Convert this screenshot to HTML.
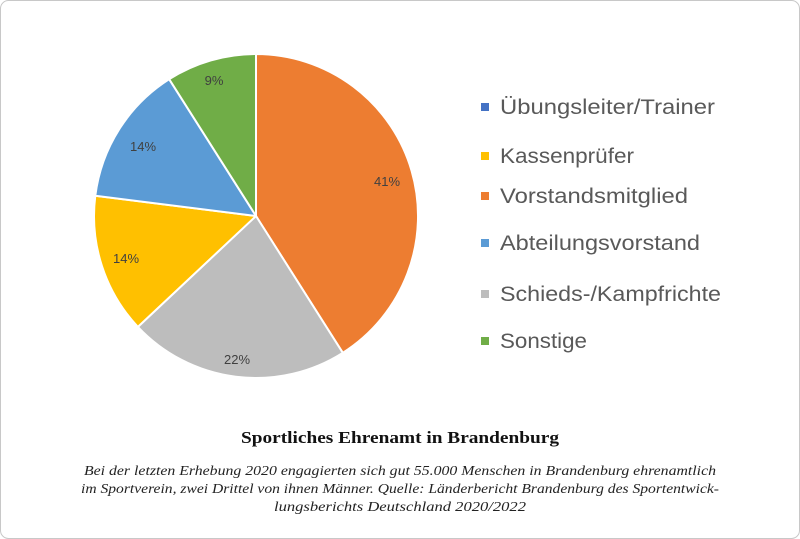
<!DOCTYPE html>
<html><head><meta charset="utf-8"><style>
body{margin:0;background:#fff;}
svg{display:block;}
</style></head><body>
<svg width="800" height="539" xmlns="http://www.w3.org/2000/svg">
<rect x="0.5" y="0.5" width="799" height="538" rx="8" fill="#fff" stroke="#c8c8c8"/>
<g stroke="#fff" stroke-width="2" stroke-linejoin="round">
<path d="M256,216 L256,54 A162,162 0 0 1 342.8,352.8 Z" fill="#ED7D31"/>
<path d="M256,216 L342.8,352.8 A162,162 0 0 1 137.9,326.9 Z" fill="#A5A5A5" style="fill:#BDBDBD"/>
<path d="M256,216 L137.9,326.9 A162,162 0 0 1 95.3,195.7 Z" fill="#FFC000"/>
<path d="M256,216 L95.3,195.7 A162,162 0 0 1 169.2,79.2 Z" fill="#5B9BD5"/>
<path d="M256,216 L169.2,79.2 A162,162 0 0 1 256,54 Z" fill="#70AD47"/>
</g>
<g font-family="Liberation Sans, sans-serif" font-size="13" fill="#404040" text-anchor="middle">
<text x="387" y="186">41%</text>
<text x="237" y="364">22%</text>
<text x="126" y="263">14%</text>
<text x="143" y="151">14%</text>
<text x="214" y="85">9%</text>
</g>
<g font-family="Liberation Sans, sans-serif" font-size="21" fill="#595959">
<rect x="481" y="103" width="8" height="8" fill="#4472C4"/><text x="500" y="114" textLength="215" lengthAdjust="spacingAndGlyphs">Übungsleiter/Trainer</text>
<rect x="481" y="152" width="8" height="8" fill="#FFC000"/><text x="500" y="163" textLength="134" lengthAdjust="spacingAndGlyphs">Kassenprüfer</text>
<rect x="481" y="192" width="8" height="8" fill="#ED7D31"/><text x="500" y="203" textLength="188" lengthAdjust="spacingAndGlyphs">Vorstandsmitglied</text>
<rect x="481" y="239" width="8" height="8" fill="#5B9BD5"/><text x="500" y="250" textLength="200" lengthAdjust="spacingAndGlyphs">Abteilungsvorstand</text>
<rect x="481" y="290" width="8" height="8" fill="#BDBDBD"/><text x="500" y="301" textLength="221" lengthAdjust="spacingAndGlyphs">Schieds-/Kampfrichte</text>
<rect x="481" y="337" width="8" height="8" fill="#70AD47"/><text x="500" y="348" textLength="87" lengthAdjust="spacingAndGlyphs">Sonstige</text>
</g>
<text x="400" y="443" font-family="Liberation Serif, serif" font-weight="bold" font-size="17" fill="#111" text-anchor="middle" textLength="318" lengthAdjust="spacingAndGlyphs">Sportliches Ehrenamt in Brandenburg</text>
<g font-family="Liberation Serif, serif" font-style="italic" font-size="14" fill="#222" text-anchor="middle">
<text x="400" y="475" textLength="632" lengthAdjust="spacingAndGlyphs">Bei der letzten Erhebung 2020 engagierten sich gut 55.000 Menschen in Brandenburg ehrenamtlich</text>
<text x="400" y="493" textLength="638" lengthAdjust="spacingAndGlyphs">im Sportverein, zwei Drittel von ihnen Männer. Quelle: Länderbericht Brandenburg des Sportentwick-</text>
<text x="400" y="511" textLength="252" lengthAdjust="spacingAndGlyphs">lungsberichts Deutschland 2020/2022</text>
</g>
</svg>
</body></html>
